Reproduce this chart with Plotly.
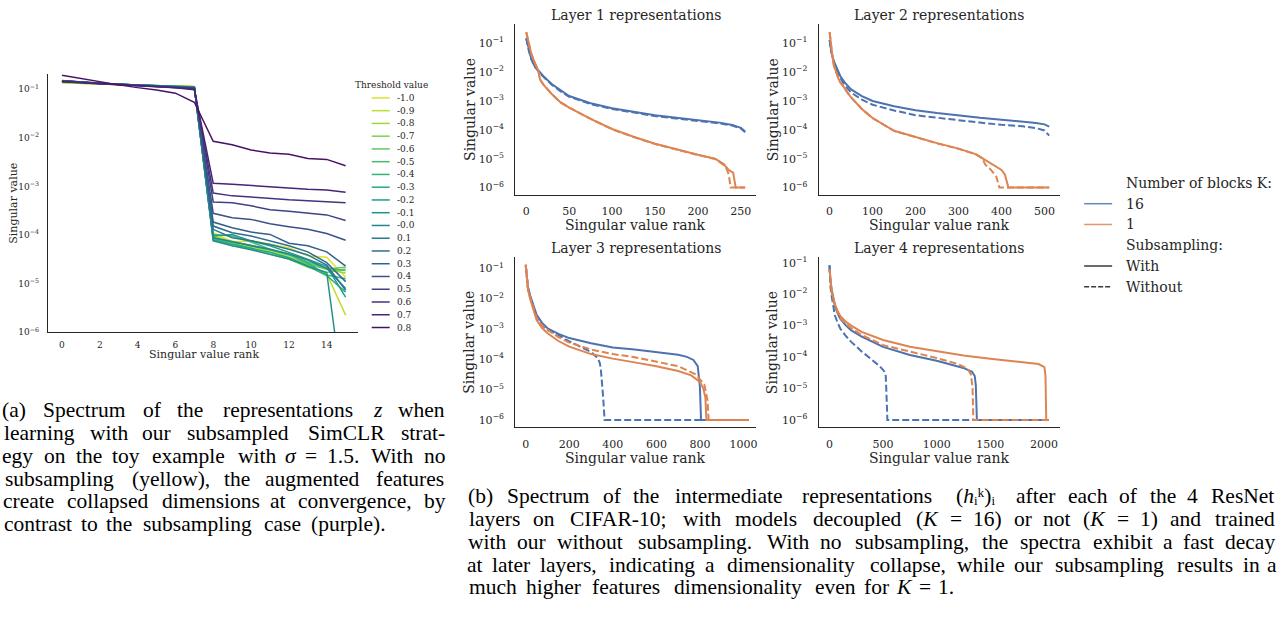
import re
import plotly.graph_objects as go
from plotly.colors import sample_colorscale

W, H = 1281, 624

# ---------------- (a) toy example data ----------------
toy_rank = list(range(16))
thresholds = ["-1.0", "-0.9", "-0.8", "-0.7", "-0.6", "-0.5", "-0.4", "-0.3", "-0.2", "-0.1",
              "-0.0", "0.1", "0.2", "0.3", "0.4", "0.5", "0.6", "0.7", "0.8"]

thr_m10 = [0.136, 0.131, 0.127, 0.124, 0.121, 0.118, 0.116, 0.114, 1.12e-4, 7.2e-5, 7.6e-5, 6.5e-5, 5.5e-5, 3.75e-5, 3.5e-5, 1.36e-5]
thr_m09 = [0.138, 0.132, 0.128, 0.124, 0.121, 0.118, 0.115, 0.113, 9.9e-5, 6.5e-5, 5.8e-5, 4.7e-5, 3.6e-5, 2.4e-5, 1.6e-5, 2.25e-6]
thr_m08 = [0.140, 0.133, 0.128, 0.125, 0.121, 0.118, 0.115, 0.113, 9.3e-5, 7.6e-5, 6.0e-5, 4.5e-5, 3.5e-5, 2.66e-5, 1.95e-5, 1.66e-5]
thr_m07 = [0.141, 0.134, 0.129, 0.125, 0.122, 0.118, 0.115, 0.112, 8.8e-5, 6.0e-5, 5.5e-5, 4.05e-5, 3.2e-5, 2.17e-5, 1.7e-5, 2.0e-5]
thr_m06 = [0.143, 0.135, 0.129, 0.125, 0.122, 0.118, 0.115, 0.112, 8.2e-5, 7.0e-5, 5.1e-5, 4.4e-5, 3.3e-5, 2.5e-5, 2.0e-5, 2.17e-5]
thr_m05 = [0.144, 0.136, 0.130, 0.126, 0.122, 0.118, 0.115, 0.111, 1.03e-4, 9.6e-5, 7.2e-5, 5.1e-5, 4.05e-5, 2.8e-5, 2.07e-5, 1.86e-5]
thr_m04 = [0.145, 0.137, 0.130, 0.126, 0.122, 0.118, 0.114, 0.111, 8.5e-5, 7.2e-5, 6.2e-5, 5.0e-5, 3.9e-5, 2.66e-5, 1.5e-5, 1.26e-5]
thr_m03 = [0.146, 0.137, 0.131, 0.126, 0.122, 0.118, 0.114, 0.110, 7.9e-5, 6.5e-5, 5.4e-5, 4.4e-5, 3.4e-5, 2.3e-5, 1.47e-5, 6.7e-6]
thr_m02 = [0.147, 0.138, 0.131, 0.126, 0.122, 0.118, 0.114, 0.110, 9.6e-5, 1.03e-4, 7.6e-5, 6.0e-5, 4.4e-5, 3.2e-5, 2.27e-5, 5.3e-6]
thr_m01 = [0.148, 0.138, 0.131, 0.126, 0.122, 0.117, 0.113, 0.109, 7.6e-5, 6.0e-5, 5.0e-5, 4.05e-5, 3.2e-5, 2.3e-5, 1.7e-5, 2.0e-8]
thr_m00 = [0.149, 0.139, 0.132, 0.126, 0.121, 0.117, 0.113, 0.109, 8.8e-5, 7.2e-5, 6.0e-5, 5.1e-5, 4.1e-5, 3.06e-5, 2.07e-5, 7.9e-6]
thr_p01 = [0.150, 0.139, 0.132, 0.126, 0.121, 0.117, 0.113, 0.108, 1.31e-4, 8.8e-5, 7.6e-5, 6.4e-5, 5.1e-5, 3.9e-5, 2.4e-5, 7.3e-6]
thr_p02 = [0.150, 0.140, 0.132, 0.126, 0.121, 0.116, 0.112, 0.108, 1.53e-4, 1.12e-4, 9.6e-5, 7.6e-5, 6.0e-5, 4.5e-5, 2.7e-5, 1.1e-5]
thr_p03 = [0.151, 0.140, 0.132, 0.126, 0.121, 0.116, 0.112, 0.107, 1.85e-4, 1.42e-4, 1.15e-4, 1.03e-4, 6.8e-5, 6.0e-5, 4.5e-5, 2.3e-5]
thr_p04 = [0.150, 0.140, 0.132, 0.126, 0.120, 0.116, 0.111, 0.106, 2.8e-4, 2.26e-4, 2.1e-4, 1.7e-4, 1.48e-4, 1.31e-4, 1.08e-4, 7.8e-5]
thr_p05 = [0.148, 0.139, 0.131, 0.125, 0.120, 0.115, 0.110, 0.104, 4.8e-4, 4.6e-4, 4.0e-4, 3.3e-4, 3.1e-4, 2.8e-4, 2.6e-4, 2.0e-4]
thr_p06 = [0.145, 0.137, 0.130, 0.124, 0.119, 0.114, 0.109, 0.102, 7.3e-4, 6.4e-4, 6.05e-4, 5.6e-4, 5.3e-4, 5.1e-4, 4.9e-4, 4.6e-4]
thr_p07 = [0.142, 0.135, 0.129, 0.123, 0.118, 0.113, 0.107, 0.098, 1.16e-3, 1.11e-3, 1.04e-3, 9.7e-4, 9.2e-4, 8.8e-4, 8.5e-4, 7.6e-4]
thr_p08 = [0.195, 0.166, 0.144, 0.123, 0.108, 0.097, 0.083, 0.054, 8.5e-3, 7.2e-3, 5.6e-3, 4.9e-3, 4.6e-3, 3.76e-3, 3.6e-3, 2.67e-3]

toy_series = [thr_m10, thr_m09, thr_m08, thr_m07, thr_m06, thr_m05, thr_m04, thr_m03, thr_m02, thr_m01,
              thr_m00, thr_p01, thr_p02, thr_p03, thr_p04, thr_p05, thr_p06, thr_p07, thr_p08]
toy_xticks = [0, 2, 4, 6, 8, 10, 12, 14]

# ---------------- (b) CIFAR-10 layer spectra ----------------
# Layer 1 (256 dims)
l1_r_blue_with = [0, 3, 6, 10, 15, 20, 30, 40, 50, 75, 100, 125, 150, 175, 200, 225, 240, 250, 255]
l1_v_blue_with = [0.148, 0.0562, 0.0282, 0.0158, 0.0105, 7.2e-3, 3.8e-3, 2.3e-3, 1.48e-3, 8.3e-4, 5.6e-4, 4.2e-4, 3.2e-4, 2.6e-4, 2.2e-4, 1.78e-4, 1.48e-4, 1.17e-4, 8.7e-5]
l1_r_blue_without = [0, 3, 6, 10, 15, 20, 30, 40, 50, 75, 100, 125, 150, 175, 200, 225, 240, 250, 255]
l1_v_blue_without = [0.148, 0.055, 0.0275, 0.0152, 0.0100, 6.9e-3, 3.6e-3, 2.15e-3, 1.4e-3, 7.8e-4, 5.3e-4, 3.95e-4, 3.0e-4, 2.45e-4, 2.05e-4, 1.68e-4, 1.4e-4, 1.12e-4, 8.3e-5]
l1_r_orange_with = [0, 3, 6, 10, 14, 16, 20, 30, 40, 50, 75, 100, 125, 150, 175, 200, 220, 230, 236, 241, 244, 255]
l1_v_orange_with = [0.24, 0.089, 0.0417, 0.0209, 0.0112, 5.6e-3, 3.7e-3, 1.7e-3, 8.9e-4, 5.9e-4, 2.4e-4, 1.07e-4, 5.75e-5, 3.3e-5, 2.1e-5, 1.38e-5, 1.0e-5, 6.5e-6, 4.0e-6, 3.3e-6, 1e-6, 1e-6]
l1_r_orange_without = [0, 3, 6, 10, 14, 16, 20, 30, 40, 50, 75, 100, 125, 150, 175, 200, 220, 232, 236, 238, 255]
l1_v_orange_without = [0.24, 0.089, 0.0417, 0.0209, 0.0112, 5.6e-3, 3.7e-3, 1.7e-3, 8.9e-4, 5.9e-4, 2.4e-4, 1.05e-4, 5.6e-5, 3.25e-5, 2.05e-5, 1.35e-5, 9.8e-6, 5.6e-6, 2.8e-6, 1e-6, 1e-6]

# Layer 2 (512 dims)
l2_r_blue_with = [0, 4, 10, 17, 25, 35, 50, 75, 100, 150, 200, 250, 300, 350, 400, 450, 480, 500, 511]
l2_v_blue_with = [0.129, 0.050, 0.0234, 0.0126, 7.2e-3, 4.4e-3, 2.5e-3, 1.48e-3, 1.0e-3, 6.6e-4, 4.8e-4, 3.8e-4, 3.1e-4, 2.6e-4, 2.24e-4, 1.95e-4, 1.74e-4, 1.55e-4, 1.29e-4]
l2_r_blue_without = [0, 4, 10, 17, 25, 35, 50, 75, 100, 150, 200, 250, 300, 350, 400, 450, 480, 500, 511]
l2_v_blue_without = [0.129, 0.048, 0.0219, 0.0112, 6.3e-3, 3.55e-3, 1.95e-3, 1.12e-3, 7.4e-4, 4.7e-4, 3.2e-4, 2.6e-4, 2.1e-4, 1.78e-4, 1.5e-4, 1.32e-4, 1.15e-4, 9.5e-5, 6.3e-5]
l2_r_orange_with = [0, 3, 6, 10, 15, 20, 25, 30, 40, 50, 75, 100, 150, 200, 250, 300, 340, 355, 370, 385, 400, 408, 413, 416, 511]
l2_v_orange_with = [0.24, 0.089, 0.040, 0.0166, 9.5e-3, 6.3e-3, 4.4e-3, 3.55e-3, 2.1e-3, 1.32e-3, 5.25e-4, 2.57e-4, 9.3e-5, 5.6e-5, 3.47e-5, 2.24e-5, 1.45e-5, 1.05e-5, 7.6e-6, 5.6e-6, 4.1e-6, 2.8e-6, 1.4e-6, 1e-6, 1e-6]
l2_r_orange_without = [0, 3, 6, 10, 15, 20, 25, 30, 40, 50, 75, 100, 150, 200, 250, 300, 340, 355, 362, 375, 388, 395, 511]
l2_v_orange_without = [0.24, 0.089, 0.040, 0.0166, 9.5e-3, 6.3e-3, 4.4e-3, 3.55e-3, 2.1e-3, 1.32e-3, 5.25e-4, 2.55e-4, 9.2e-5, 5.5e-5, 3.4e-5, 2.2e-5, 1.42e-5, 1.05e-5, 6.3e-6, 4.2e-6, 2.4e-6, 1e-6, 1e-6]

# Layer 3 (1024 dims)
l3_r_blue_with = [0, 5, 10, 20, 35, 50, 75, 100, 150, 200, 300, 400, 500, 600, 700, 740, 770, 790, 800, 805, 1023]
l3_v_blue_with = [0.123, 0.0447, 0.0251, 0.0129, 5.6e-3, 2.9e-3, 1.58e-3, 1.05e-3, 6.9e-4, 5.0e-4, 3.4e-4, 2.45e-4, 2.1e-4, 1.74e-4, 1.41e-4, 1.2e-4, 9.5e-5, 5.9e-5, 1.17e-5, 1e-6, 1e-6]
l3_r_blue_without = [0, 5, 10, 20, 35, 50, 75, 100, 150, 200, 250, 300, 330, 340, 345, 350, 355, 362, 1023]
l3_v_blue_without = [0.123, 0.0417, 0.0224, 0.0112, 4.5e-3, 2.24e-3, 1.32e-3, 9.3e-4, 6.3e-4, 3.9e-4, 2.6e-4, 1.74e-4, 1.1e-4, 7.6e-5, 4.5e-5, 1.9e-5, 6.3e-6, 1e-6, 1e-6]
l3_r_orange_with = [0, 5, 10, 20, 35, 50, 75, 100, 150, 200, 300, 400, 500, 600, 700, 760, 800, 815, 825, 830, 1023]
l3_v_orange_with = [0.132, 0.040, 0.020, 0.010, 4.0e-3, 1.95e-3, 1.07e-3, 7.2e-4, 4.0e-4, 2.6e-4, 1.48e-4, 1.05e-4, 7.9e-5, 5.9e-5, 4.1e-5, 2.95e-5, 1.78e-5, 1.12e-5, 5.5e-6, 1e-6, 1e-6]
l3_r_orange_without = [0, 5, 10, 20, 35, 50, 75, 100, 150, 200, 300, 400, 500, 600, 700, 780, 820, 835, 840, 1023]
l3_v_orange_without = [0.132, 0.0417, 0.0219, 0.0112, 4.7e-3, 2.34e-3, 1.32e-3, 9.3e-4, 5.4e-4, 3.55e-4, 2.1e-4, 1.48e-4, 1.17e-4, 8.5e-5, 5.9e-5, 3.2e-5, 1.48e-5, 4.3e-6, 1e-6, 1e-6]

# Layer 4 (2048 dims)
l4_r_blue_with = [0, 5, 10, 20, 35, 50, 75, 100, 150, 200, 300, 400, 500, 750, 1000, 1250, 1330, 1355, 1365, 1375, 2047]
l4_v_blue_with = [0.083, 0.040, 0.025, 0.0145, 7.6e-3, 4.4e-3, 2.5e-3, 1.66e-3, 1.05e-3, 7.2e-4, 4.5e-4, 3.0e-4, 2.1e-4, 1.17e-4, 7.6e-5, 4.5e-5, 3.4e-5, 2.5e-5, 1.26e-5, 1e-6, 1e-6]
l4_r_blue_without = [0, 5, 10, 20, 35, 50, 75, 100, 150, 200, 300, 400, 470, 510, 525, 535, 540, 2047]
l4_v_blue_without = [0.083, 0.0282, 0.0158, 8.9e-3, 4.0e-3, 2.14e-3, 1.26e-3, 8.1e-4, 4.8e-4, 3.1e-4, 1.51e-4, 8.1e-5, 5.1e-5, 3.55e-5, 2.5e-5, 3.2e-6, 1e-6, 1e-6]
l4_r_orange_with = [0, 5, 10, 20, 35, 50, 75, 100, 150, 200, 300, 500, 750, 1000, 1250, 1500, 1750, 1950, 2005, 2015, 2022, 2047]
l4_v_orange_with = [0.062, 0.0355, 0.024, 0.0129, 7.6e-3, 4.9e-3, 3.0e-3, 2.04e-3, 1.35e-3, 1.02e-3, 6.3e-4, 3.5e-4, 2.14e-4, 1.51e-4, 1.12e-4, 8.9e-5, 7.2e-5, 6.0e-5, 4.8e-5, 2.5e-5, 1e-6, 1e-6]
l4_r_orange_without = [0, 5, 10, 20, 35, 50, 75, 100, 150, 200, 300, 500, 750, 1000, 1200, 1290, 1320, 1335, 1342, 2047]
l4_v_orange_without = [0.062, 0.0339, 0.0219, 0.0115, 6.8e-3, 4.4e-3, 2.6e-3, 1.74e-3, 1.15e-3, 8.5e-4, 5.0e-4, 2.4e-4, 1.51e-4, 9.3e-5, 6.0e-5, 4.2e-5, 2.8e-5, 1.0e-5, 1e-6, 1e-6]

layer_titles = ["Layer 1 representations", "Layer 2 representations",
                "Layer 3 representations", "Layer 4 representations"]
layer_xticks = [[0, 50, 100, 150, 200, 250], [0, 100, 200, 300, 400, 500],
                [0, 200, 400, 600, 800, 1000], [0, 500, 1000, 1500, 2000]]
log_ticks = [1e-6, 1e-5, 1e-4, 1e-3, 1e-2, 1e-1]
log_ticktext = ["10<sup>\u22126</sup>", "10<sup>\u22125</sup>", "10<sup>\u22124</sup>",
                "10<sup>\u22123</sup>", "10<sup>\u22122</sup>", "10<sup>\u22121</sup>"]
block_labels = ["16", "1"]
subsampling_labels = ["With", "Without"]

caption_a = [
    "(a) Spectrum of the representations <i>z</i> when",
    "learning with our subsampled SimCLR strat-",
    "egy on the toy example with <i>\u03c3</i> = 1.5. With no",
    "subsampling (yellow), the augmented features",
    "create collapsed dimensions at convergence, by",
    "contrast to the subsampling case (purple).",
]
caption_b = [
    "(b) Spectrum of the intermediate representations (<i>h</i>\u1d62\u1d4f)\u1d62 after each of the 4 ResNet",
    "layers on CIFAR-10; with models decoupled (<i>K</i> = 16) or not (<i>K</i> = 1) and trained",
    "with our without subsampling. With no subsampling, the spectra exhibit a fast decay",
    "at later layers, indicating a dimensionality collapse, while our subsampling results in a",
    "much higher features dimensionality even for <i>K</i> = 1.",
]

# ---------------- styling ----------------
BLUE = "#4c72b0"
ORANGE = "#dd8452"
INK = "#262626"
SERIF = "DejaVu Serif"
CAP = "Liberation Serif"

# Times-compatible advance widths (per 1000 em) used to justify caption words
TIMES_W = {" ": 250, "(": 333, ")": 333, ",": 250, "-": 333, ".": 250, ":": 278, ";": 278, "=": 564}
for ch in "0123456789":
    TIMES_W[ch] = 500
TIMES_W.update(dict(zip("ABCDEFGHIJKLMNOPQRSTUVWXYZ",
                        [722, 667, 667, 722, 611, 556, 722, 722, 333, 389, 722, 611, 889, 722, 722,
                         556, 722, 667, 556, 611, 722, 722, 944, 722, 722, 611])))
TIMES_W.update(dict(zip("abcdefghijklmnopqrstuvwxyz",
                        [444, 500, 444, 500, 444, 333, 500, 500, 278, 278, 500, 278, 778, 500, 500,
                         500, 500, 333, 389, 278, 500, 500, 722, 500, 500, 444])))


def px(x):
    return x / W


def py(y):
    return 1 - y / H


fig = go.Figure()

# toy panel traces
toy_colors = sample_colorscale("Viridis", [1 - (i + 1) / 20 for i in range(len(thresholds))])
for lab, vals, col in zip(thresholds, toy_series, toy_colors):
    fig.add_trace(go.Scatter(x=toy_rank, y=vals, mode="lines", name=lab,
                             line=dict(color=col, width=1.5), xaxis="x", yaxis="y"))

layers = [
    (l1_r_blue_with, l1_v_blue_with, l1_r_blue_without, l1_v_blue_without,
     l1_r_orange_with, l1_v_orange_with, l1_r_orange_without, l1_v_orange_without),
    (l2_r_blue_with, l2_v_blue_with, l2_r_blue_without, l2_v_blue_without,
     l2_r_orange_with, l2_v_orange_with, l2_r_orange_without, l2_v_orange_without),
    (l3_r_blue_with, l3_v_blue_with, l3_r_blue_without, l3_v_blue_without,
     l3_r_orange_with, l3_v_orange_with, l3_r_orange_without, l3_v_orange_without),
    (l4_r_blue_with, l4_v_blue_with, l4_r_blue_without, l4_v_blue_without,
     l4_r_orange_with, l4_v_orange_with, l4_r_orange_without, l4_v_orange_without),
]
DASH = "7px,3px"
for k, L in enumerate(layers):
    xa, ya = "x%d" % (k + 2), "y%d" % (k + 2)
    specs = [(L[0], L[1], BLUE, "solid"), (L[2], L[3], BLUE, DASH),
             (L[4], L[5], ORANGE, "solid"), (L[6], L[7], ORANGE, DASH)]
    for r, v, c, d in specs:
        fig.add_trace(go.Scatter(x=r, y=v, mode="lines", line=dict(color=c, width=2, dash=d),
                                 xaxis=xa, yaxis=ya, showlegend=False))


# ---------------- axes ----------------
def ax_common(size):
    return dict(showline=True, linecolor=INK, linewidth=1.25, mirror=False, showgrid=False,
                zeroline=False, ticks="", ticklen=0,
                tickfont=dict(family=SERIF, size=size, color=INK))


layout = dict(width=W, height=H, autosize=False, margin=dict(l=0, r=0, t=0, b=0, pad=0),
              paper_bgcolor="white", plot_bgcolor="white", showlegend=False)

layout["xaxis"] = dict(ax_common(9), domain=[px(48), px(358)], range=[-0.74, 15.64],
                       tickvals=toy_xticks, anchor="y", ticklabelstandoff=4)
layout["yaxis"] = dict(ax_common(9), domain=[py(334), py(73)], type="log", range=[-6, -0.69],
                       tickvals=log_ticks, ticktext=log_ticktext, anchor="x", ticklabelstandoff=6)

panels = [
    # x0, x1, ytop, ybot, xrange, yrange
    (515.7, 756.7, 22.7, 195.0, [-12.75, 267.75], [-6.25, -0.35]),
    (819.3, 1061.0, 22.7, 195.0, [-25.5, 536.5], [-6.25, -0.35]),
    (515.7, 756.7, 258.3, 430.3, [-48, 1058], [-6.25, -0.64]),
    (819.3, 1061.0, 258.3, 430.3, [-101, 2152], [-6.24, -0.83]),
]
annotations = []
shapes = []
for k, (x0, x1, yt, yb, xr, yr) in enumerate(panels):
    n = k + 2
    layout["xaxis%d" % n] = dict(ax_common(11), domain=[px(x0), px(x1)], range=xr,
                                 tickvals=layer_xticks[k], anchor="y%d" % n, ticklabelstandoff=6)
    layout["yaxis%d" % n] = dict(ax_common(11), domain=[py(yb), py(yt)], type="log", range=yr,
                                 tickvals=log_ticks, ticktext=log_ticktext, anchor="x%d" % n,
                                 ticklabelstandoff=8)
    cx = (x0 + x1) / 2
    annotations.append(dict(text=layer_titles[k], x=px(cx), y=py(yt - 10), xref="paper", yref="paper",
                            showarrow=False, xanchor="center", yanchor="middle",
                            font=dict(family=SERIF, size=14, color=INK)))
    annotations.append(dict(text="Singular value rank", x=px(cx), y=py(yb + 30.5), xref="paper",
                            yref="paper", showarrow=False, xanchor="center", yanchor="middle",
                            font=dict(family=SERIF, size=14, color=INK)))
    annotations.append(dict(text="Singular value", x=px(x0 - 46), y=py((yt + yb) / 2), xref="paper",
                            yref="paper", showarrow=False, textangle=-90, xanchor="center",
                            yanchor="middle", font=dict(family=SERIF, size=14, color=INK)))

# toy axis titles
annotations.append(dict(text="Singular value rank", x=px(204), y=py(357), xref="paper", yref="paper",
                        showarrow=False, xanchor="center", yanchor="middle",
                        font=dict(family=SERIF, size=11, color=INK)))
annotations.append(dict(text="Singular value", x=px(14), y=py(203), xref="paper", yref="paper",
                        showarrow=False, textangle=-90, xanchor="center", yanchor="middle",
                        font=dict(family=SERIF, size=11, color=INK)))

# toy legend
annotations.append(dict(text="Threshold value", x=px(392), y=py(84), xref="paper", yref="paper",
                        showarrow=False, xanchor="center", yanchor="middle",
                        font=dict(family=SERIF, size=9, color=INK)))
for i, (lab, col) in enumerate(zip(thresholds, toy_colors)):
    yy = 97 + 12.9 * i
    shapes.append(dict(type="line", xref="paper", yref="paper", x0=px(372), x1=px(390),
                       y0=py(yy), y1=py(yy), line=dict(color=col, width=1.5)))
    annotations.append(dict(text=lab, x=px(396), y=py(yy), xref="paper", yref="paper",
                            showarrow=False, xanchor="left", yanchor="middle", borderpad=0,
                            font=dict(family=SERIF, size=9, color=INK)))

# layer legend
leg_font = dict(family=SERIF, size=14, color=INK)
annotations.append(dict(text="Number of blocks K:", x=px(1125), y=py(183), xref="paper", yref="paper",
                        showarrow=False, xanchor="left", yanchor="middle", font=leg_font))
for lab, col, yy in zip(block_labels, [BLUE, ORANGE], [204, 225]):
    shapes.append(dict(type="line", xref="paper", yref="paper", x0=px(1085), x1=px(1113),
                       y0=py(yy), y1=py(yy), line=dict(color=col, width=1.5), opacity=0.85))
    annotations.append(dict(text=lab, x=px(1125), y=py(yy), xref="paper", yref="paper",
                            showarrow=False, xanchor="left", yanchor="middle", font=leg_font))
annotations.append(dict(text="Subsampling:", x=px(1125), y=py(246), xref="paper", yref="paper",
                        showarrow=False, xanchor="left", yanchor="middle", font=leg_font))
for lab, d, yy in zip(subsampling_labels, ["solid", "5px,2px"], [267, 288]):
    shapes.append(dict(type="line", xref="paper", yref="paper", x0=px(1085), x1=px(1113),
                       y0=py(yy), y1=py(yy), line=dict(color="#3a3a3a", width=1.5, dash=d)))
    annotations.append(dict(text=lab, x=px(1125), y=py(yy), xref="paper", yref="paper",
                            showarrow=False, xanchor="left", yanchor="middle", font=leg_font))


# captions: justified word by word
def word_width(word, size):
    plain = re.sub(r"<[^>]+>", "", word)
    return sum(TIMES_W.get(ch, 420) for ch in plain) * size / 1000.0


def add_caption(lines, x_left, x_right, y_first, pitch, metric_size, font_size):
    for li, line in enumerate(lines):
        words = line.split(" ")
        widths = [word_width(w, metric_size) for w in words]
        if li == len(lines) - 1 or len(words) == 1:
            gap = word_width(" ", metric_size)
        else:
            gap = (x_right - x_left - sum(widths)) / (len(words) - 1)
        x = x_left
        for w, ww in zip(words, widths):
            annotations.append(dict(text=w, x=px(x + ww / 2), y=py(y_first + pitch * li),
                                    xref="paper", yref="paper", showarrow=False,
                                    xanchor="center", yanchor="middle", borderpad=0,
                                    font=dict(family=CAP, size=font_size, color="black")))
            x += ww + gap


add_caption(caption_a, 1, 447, 413, 23, 23.3, 21.5)
add_caption(caption_b, 467, 1278, 500, 23, 23.3, 21.5)

layout["annotations"] = annotations
layout["shapes"] = shapes
fig.update_layout(**layout)
fig.write_html("out.html", config={"displayModeBar": False},
               post_script="document.body.style.margin='0px';document.body.style.overflow='hidden';")
